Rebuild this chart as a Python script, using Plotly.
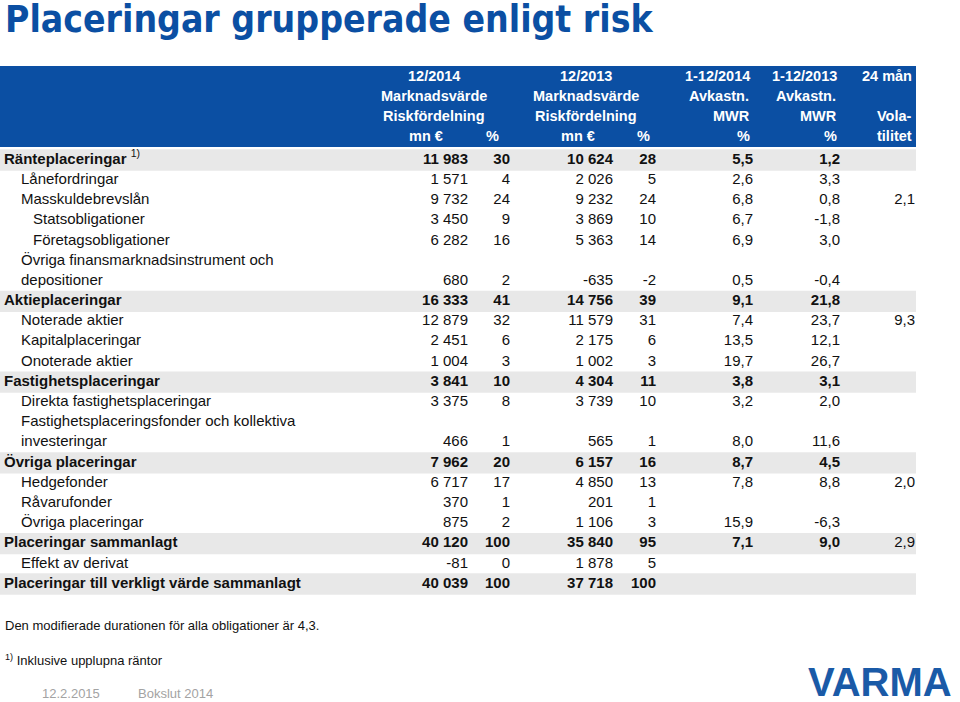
"""Placeringar grupperade enligt risk – tabell som Plotly-figur."""
import plotly.graph_objects as go

W, H = 960, 702
BLUE = "#0b4fa3"
GRAY_ROW = "#e8e8e8"
FONT = "Liberation Sans, Arial, sans-serif"

# --- data -------------------------------------------------------------------
labels = [
    "Ränteplaceringar", "Lånefordringar", "Masskuldebrevslån", "Statsobligationer",
    "Företagsobligationer", "Övriga finansmarknadsinstrument och", "depositioner",
    "Aktieplaceringar", "Noterade aktier", "Kapitalplaceringar", "Onoterade aktier",
    "Fastighetsplaceringar", "Direkta fastighetsplaceringar",
    "Fastighetsplaceringsfonder och kollektiva", "investeringar",
    "Övriga placeringar", "Hedgefonder", "Råvarufonder", "Övriga placeringar",
    "Placeringar sammanlagt", "Effekt av derivat",
    "Placeringar till verkligt värde sammanlagt",
]
levels = [0, 1, 1, 2, 2, 1, 1, 0, 1, 1, 1, 0, 1, 1, 1, 0, 1, 1, 1, 0, 1, 0]
total_rows = [0, 7, 11, 15, 19, 21]

mv_2014 = [11983, 1571, 9732, 3450, 6282, None, 680, 16333, 12879, 2451, 1004,
           3841, 3375, None, 466, 7962, 6717, 370, 875, 40120, -81, 40039]
pct_2014 = [30, 4, 24, 9, 16, None, 2, 41, 32, 6, 3, 10, 8, None, 1, 20, 17, 1, 2,
            100, 0, 100]
mv_2013 = [10624, 2026, 9232, 3869, 5363, None, -635, 14756, 11579, 2175, 1002,
           4304, 3739, None, 565, 6157, 4850, 201, 1106, 35840, 1878, 37718]
pct_2013 = [28, 5, 24, 10, 14, None, -2, 39, 31, 6, 3, 11, 10, None, 1, 16, 13, 1, 3,
            95, 5, 100]
mwr_2014 = [5.5, 2.6, 6.8, 6.7, 6.9, None, 0.5, 9.1, 7.4, 13.5, 19.7, 3.8, 3.2, None,
            8.0, 8.7, 7.8, None, 15.9, 7.1, None, None]
mwr_2013 = [1.2, 3.3, 0.8, -1.8, 3.0, None, -0.4, 21.8, 23.7, 12.1, 26.7, 3.1, 2.0,
            None, 11.6, 4.5, 8.8, None, -6.3, 9.0, None, None]
vol_24m = [None, None, 2.1, None, None, None, None, None, 9.3, None, None, None,
           None, None, None, None, 2.0, None, None, 2.9, None, None]


def fmt_int(v):
    return f"{v:,}".replace(",", " ")


def fmt_dec(v):
    return f"{v:.1f}".replace(".", ",")


rows = list(range(len(labels)))
bold = [i in total_rows for i in rows]


def b(txt, is_bold):
    return f"<b>{txt}</b>" if is_bold else txt


# --- layout constants (pixels) ---------------------------------------------
ROW0_PX, ROW_PX = 160, 20.19
y_top = -ROW0_PX / ROW_PX
y_bot = y_top + H / ROW_PX
indent_px = {0: 4, 1: 21, 2: 33}
BODY = 15

fig = go.Figure()

# labels
lab_txt = [b(t, bold[i]) for i, t in enumerate(labels)]
lab_txt[0] = "<b>Ränteplaceringar</b> <sup>1)</sup>"
for lvl, xpx in indent_px.items():
    idx = [i for i in rows if levels[i] == lvl]
    fig.add_trace(go.Scatter(
        x=[xpx] * len(idx), y=idx, mode="text",
        text=[lab_txt[i] for i in idx], textposition="middle right",
        textfont=dict(family=FONT, size=BODY, color="#111"),
        hoverinfo="skip", showlegend=False,
    ))

columns = [
    (mv_2014, fmt_int, 468, True),
    (pct_2014, fmt_int, 510, True),
    (mv_2013, fmt_int, 613, True),
    (pct_2013, fmt_int, 656, True),
    (mwr_2014, fmt_dec, 753, True),
    (mwr_2013, fmt_dec, 840, True),
    (vol_24m, fmt_dec, 915, False),
]
for vals, f, xpx, use_bold in columns:
    idx = [i for i, v in enumerate(vals) if v is not None]
    fig.add_trace(go.Scatter(
        x=[xpx] * len(idx), y=idx, mode="text",
        text=[b(f(vals[i]), use_bold and bold[i]) for i in idx],
        textposition="middle left",
        textfont=dict(family=FONT, size=BODY, color="#111"),
        hoverinfo="skip", showlegend=False,
    ))

# grey total rows
for i in total_rows:
    fig.add_shape(type="rect", xref="x", yref="y", x0=0, x1=916,
                  y0=i - 0.53, y1=i + 0.53, fillcolor=GRAY_ROW,
                  line_width=0, layer="below")

# header band
fig.add_shape(type="rect", xref="x", yref="paper", x0=0, x1=916,
              y0=1 - 147 / H, y1=1 - 66 / H, fillcolor=BLUE, line_width=0,
              layer="below")


def ann(text, xpx, ypx, anchor="right", size=14.5, color="white", bold_=True,
        family=FONT):
    fig.add_annotation(
        x=xpx, y=1 - ypx / H, xref="x", yref="paper",
        text=f"<b>{text}</b>" if bold_ else text,
        xanchor=anchor, yanchor="middle", showarrow=False,
        font=dict(family=family, size=size, color=color),
    )


HDR = [76, 96, 116, 136]
for c, yr in ((434, "12/2014"), (586, "12/2013")):
    ann(yr, c, HDR[0], "center")
    ann("Marknadsvärde", c, HDR[1], "center")
    ann("Riskfördelning", c, HDR[2], "center")
ann("mn €", 445, HDR[3])
ann("%", 501, HDR[3])
ann("mn €", 597, HDR[3])
ann("%", 652, HDR[3])
for xr, yr in ((752, "1-12/2014"), (839, "1-12/2013")):
    ann(yr, xr, HDR[0])
    ann("Avkastn.", xr - 1, HDR[1])
    ann("MWR", xr, HDR[2])
    ann("%", xr, HDR[3])
ann("24 mån", 914, HDR[0])
ann("Vola-", 914, HDR[2])
ann("tilitet", 914, HDR[3])

# title, notes, footer
ann("Placeringar grupperade enligt risk", 3, 20, "left", size=37, color=BLUE,
    family="Liberation Sans Narrow, DejaVu Sans Condensed, Arial Narrow, sans-serif")
ann("Den modifierade durationen för alla obligationer är 4,3.", 3, 625, "left",
    size=13, color="#111", bold_=False)
ann("<sup>1)</sup> Inklusive upplupna räntor", 3, 660, "left", size=13,
    color="#111", bold_=False)
ann("12.2.2015", 40, 693, "left", size=13, color="#a3a3a3", bold_=False)
ann("Bokslut 2014", 136, 693, "left", size=13, color="#a3a3a3", bold_=False)
ann("VARMA", 954, 682, "right", size=40, color="#1a5aa7")

fig.update_layout(
    width=W, height=H, autosize=False,
    margin=dict(l=0, r=0, t=0, b=0),
    paper_bgcolor="white", plot_bgcolor="white",
    xaxis=dict(range=[0, W], visible=False, fixedrange=True),
    yaxis=dict(range=[y_bot, y_top], visible=False, fixedrange=True),
    showlegend=False,
)
fig.write_html(
    "out.html",
    config={"displayModeBar": False, "staticPlot": True},
    post_script="document.body.style.margin='0';document.body.style.overflow='hidden';",
)
